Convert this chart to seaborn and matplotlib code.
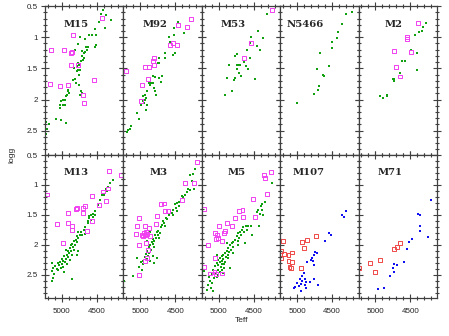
import pandas as pd
import matplotlib
matplotlib.use("Agg")
import matplotlib.pyplot as plt
import seaborn as sns
from matplotlib.ticker import MultipleLocator

# === Data: (Teff, logg) pairs per cluster ===
# green = filled squares, magenta = open squares (M107/M71: blue filled, red open)
M15_FILLED = [(4407, 0.57), (4440, 0.63), (4369, 0.64), (4474, 0.76), (4293, 0.72), (4521, 0.87),
              (4388, 0.86), (4616, 0.96), (4564, 0.97), (4507, 0.96), (4669, 1.03), (4745, 0.99),
              (4764, 1.11), (4507, 1.13), (4526, 1.16), (4659, 1.15), (4631, 1.16), (4645, 1.20),
              (4712, 1.22), (4669, 1.23), (4688, 1.25), (4816, 1.21), (4707, 1.30), (4688, 1.34),
              (4702, 1.37), (4721, 1.38), (4774, 1.41), (4750, 1.44), (4788, 1.46), (4764, 1.52),
              (4735, 1.52), (4821, 1.49), (4778, 1.55), (4754, 1.61), (4812, 1.67), (4845, 1.68),
              (4797, 1.73), (4759, 1.76), (4907, 1.84), (4916, 1.86), (4897, 1.90), (4921, 1.93),
              (4935, 1.95), (4954, 2.00), (4978, 2.01), (5012, 2.02), (5021, 2.08), (4983, 2.08),
              (4959, 2.09), (4726, 1.86), (4707, 1.89), (4740, 1.92), (5026, 2.13), (5078, 2.32),
              (5007, 2.33), (4945, 2.37), (5226, 2.36), (5188, 2.39), (5211, 2.48), (5221, 2.56)]
M15_OPEN = [(4421, 0.69), (4840, 0.96), (5159, 1.20), (4973, 1.20), (4873, 1.26), (4850, 1.24),
            (4869, 1.45), (4764, 1.44), (4540, 1.68), (5173, 1.75), (5021, 1.79), (4916, 1.77),
            (4697, 1.92), (4683, 2.06)]

M92_FILLED = [(4464, 0.75), (4516, 0.86), (4512, 0.96), (4583, 1.00), (4374, 0.94), (4574, 1.08),
              (4650, 1.26), (4650, 1.34), (4536, 1.29), (4507, 1.26), (4726, 1.34), (4750, 1.41),
              (4731, 1.42), (4688, 1.63), (4731, 1.65), (4812, 1.62), (4793, 1.64), (4821, 1.74),
              (4840, 1.73), (4869, 1.74), (4702, 1.72), (4864, 1.77), (4797, 1.82), (4902, 1.86),
              (4788, 1.87), (4769, 1.92), (4935, 1.92), (4954, 1.95), (4916, 1.97), (4926, 2.01),
              (4964, 2.03), (4945, 2.06), (4897, 2.09), (4992, 2.09), (4912, 2.17), (5040, 2.22),
              (5021, 2.32), (5126, 2.43), (5145, 2.48), (5173, 2.49), (5188, 2.52)]
M92_OPEN = [(4274, 0.71), (4455, 0.81), (4331, 0.84), (4574, 1.13), (4526, 1.10), (4478, 1.12),
            (4797, 1.33), (4812, 1.38), (4802, 1.44), (4926, 1.48), (4869, 1.48), (5207, 1.54),
            (4888, 1.67), (4973, 1.77), (4983, 2.02)]

M53_FILLED = [(4302, 0.63), (4431, 0.90), (4540, 0.99), (4364, 1.02), (4550, 1.10), (4455, 1.14),
              (4407, 1.21), (4597, 1.21), (4731, 1.27), (4764, 1.30), (4550, 1.34), (4631, 1.39),
              (4712, 1.44), (4693, 1.44), (4731, 1.45), (4845, 1.45), (4602, 1.46), (4578, 1.51),
              (4740, 1.51), (4702, 1.58), (4683, 1.62), (4759, 1.66), (4883, 1.66), (4778, 1.69),
              (4483, 1.67), (4812, 1.86), (4902, 1.93)]
M53_OPEN = [(4236, 0.57), (4531, 1.09), (4640, 1.34)]

N5466_FILLED = [(4221, 0.60), (4307, 0.63), (4355, 0.79), (4412, 0.92), (4426, 1.01), (4493, 1.07),
                (4497, 1.18), (4674, 1.26), (4536, 1.46), (4721, 1.51), (4626, 1.60), (4621, 1.62),
                (4683, 1.79), (4697, 1.85), (4764, 1.91), (4996, 2.05)]
N5466_OPEN = []

M2_FILLED = [(4283, 0.77), (4317, 0.83), (4331, 0.90), (4383, 0.92), (4431, 0.96), (4497, 1.20),
             (4407, 1.25), (4583, 1.38), (4621, 1.38), (4412, 1.52), (4650, 1.57), (4731, 1.67),
             (4755, 1.67), (4731, 1.71), (4831, 1.92), (4831, 1.95), (4888, 1.98), (4935, 1.94)]
M2_OPEN = [(4397, 0.77), (4550, 0.99), (4550, 1.03), (4740, 1.22), (4493, 1.24), (4712, 1.48),
           (4655, 1.63)]

M13_FILLED = [(4274, 0.92), (4312, 0.97), (4336, 1.03), (4369, 1.06), (4350, 1.10), (4393, 1.16),
              (4421, 1.17), (4455, 1.25), (4478, 1.33), (4526, 1.44), (4550, 1.49), (4583, 1.50),
              (4526, 1.51), (4559, 1.54), (4607, 1.56), (4583, 1.58), (4621, 1.61), (4631, 1.64),
              (4669, 1.71), (4678, 1.75), (4726, 1.78), (4774, 1.78), (4707, 1.83), (4745, 1.84),
              (4783, 1.86), (4764, 1.89), (4797, 1.92), (4826, 1.93), (4788, 1.96), (4850, 1.99),
              (4812, 2.00), (4869, 2.01), (4835, 2.04), (4883, 2.06), (4821, 2.08), (4916, 2.10),
              (4869, 2.11), (4897, 2.14), (4931, 2.17), (4859, 2.17), (4964, 2.19), (4907, 2.21),
              (4945, 2.23), (5002, 2.23), (4883, 2.25), (4978, 2.27), (5026, 2.28), (4954, 2.29),
              (5059, 2.31), (5002, 2.32), (4921, 2.32), (5040, 2.34), (5097, 2.36), (4978, 2.37),
              (5012, 2.39), (5073, 2.40), (5121, 2.39), (5050, 2.43), (5145, 2.44), (4964, 2.46),
              (5107, 2.49), (5135, 2.31), (4850, 2.57), (5121, 2.56), (5145, 2.60), (4669, 1.82),
              (4612, 1.52), (4783, 2.17), (4764, 2.11), (4945, 2.08)]
M13_OPEN = [(4331, 0.76), (4160, 0.83), (4336, 1.06), (4412, 1.11), (4574, 1.18), (4374, 1.27),
            (4469, 1.34), (5211, 1.16), (4664, 1.35), (4693, 1.39), (4783, 1.39), (4797, 1.40),
            (4702, 1.47), (4912, 1.47), (4574, 1.61), (5073, 1.66), (4916, 1.64), (4859, 1.69),
            (4859, 1.75), (4645, 1.77), (4978, 1.97)]

M3_FILLED = [(4212, 0.73), (4240, 0.81), (4288, 0.83), (4264, 0.93), (4231, 1.07), (4288, 1.08),
             (4321, 1.06), (4336, 1.12), (4360, 1.17), (4383, 1.21), (4407, 1.19), (4440, 1.28),
             (4478, 1.31), (4502, 1.32), (4450, 1.35), (4488, 1.38), (4526, 1.42), (4478, 1.43),
             (4550, 1.47), (4526, 1.50), (4583, 1.51), (4631, 1.56), (4612, 1.57), (4669, 1.60),
             (4655, 1.64), (4693, 1.67), (4707, 1.71), (4740, 1.77), (4764, 1.79), (4788, 1.83),
             (4750, 1.84), (4774, 1.88), (4812, 1.90), (4859, 1.78), (4797, 1.93), (4835, 1.96),
             (4821, 1.99), (4859, 2.00), (4802, 2.03), (4878, 2.04), (4850, 2.08), (4897, 2.11),
             (4869, 2.14), (4916, 2.16), (4883, 2.19), (4931, 2.21), (4907, 2.23), (4859, 2.27),
             (4954, 2.27), (4992, 2.28), (4821, 2.19), (4802, 2.31), (4764, 2.22), (4964, 2.33),
             (5012, 2.38), (5040, 2.22), (4978, 2.42), (5097, 2.53), (5226, 2.60), (4907, 1.94),
             (4726, 1.88), (4716, 1.81), (4645, 1.69)]
M3_OPEN = [(4183, 0.61), (4360, 0.97), (4231, 0.97), (4402, 1.25), (4697, 1.32), (4655, 1.31),
           (4640, 1.43), (4607, 1.43), (4764, 1.52), (5021, 1.56), (4778, 1.65), (5040, 1.69),
           (4926, 1.69), (4869, 1.72), (5059, 1.82), (4978, 1.83), (4945, 1.81), (4916, 1.79),
           (4897, 1.82), (4931, 1.83), (4954, 1.86), (4859, 1.86), (4921, 1.97), (5012, 2.00),
           (4893, 2.08), (4907, 2.22), (4931, 2.27), (5012, 2.50)]

M5_FILLED = [(4240, 0.96), (4336, 1.28), (4374, 1.32), (4393, 1.36), (4431, 1.42), (4374, 1.42),
             (4455, 1.46), (4407, 1.49), (4360, 1.51), (4421, 1.68), (4536, 1.68), (4574, 1.69),
             (4612, 1.68), (4645, 1.71), (4597, 1.75), (4669, 1.75), (4693, 1.78), (4631, 1.79),
             (4716, 1.81), (4526, 1.84), (4678, 1.83), (4740, 1.86), (4707, 1.89), (4764, 1.92),
             (4788, 1.96), (4726, 1.94), (4812, 1.97), (4831, 2.01), (4621, 1.97), (4788, 2.03),
             (4859, 2.06), (4821, 2.08), (4883, 2.11), (4850, 2.12), (4907, 2.14), (4788, 2.14),
             (4931, 2.17), (4869, 2.17), (4954, 2.19), (4897, 2.21), (4978, 2.22), (4931, 2.23),
             (5002, 2.25), (4945, 2.27), (4907, 2.28), (4978, 2.29), (5026, 2.31), (4954, 2.32),
             (4916, 2.33), (5002, 2.34), (5050, 2.36), (4964, 2.38), (4926, 2.39), (4835, 2.39),
             (5012, 2.42), (4945, 2.42), (5073, 2.43), (4978, 2.46), (5040, 2.47), (4931, 2.47),
             (5097, 2.49), (5012, 2.51), (5135, 2.54), (5059, 2.56), (5121, 2.60), (5097, 2.64),
             (5154, 2.68), (5107, 2.72), (5073, 2.78), (5169, 2.75), (5202, 2.44), (5026, 2.54),
             (4716, 2.00), (4883, 1.97), (4859, 2.22), (5026, 2.17)]
M5_OPEN = [(4255, 0.79), (4345, 0.84), (4336, 0.89), (4302, 1.15), (4507, 1.24), (4478, 1.53),
           (4659, 1.42), (4707, 1.44), (4655, 1.53), (4764, 1.56), (5207, 1.41), (4812, 1.68),
           (4878, 1.64), (4988, 1.69), (4907, 1.77), (4921, 1.81), (5050, 1.81), (5026, 1.84),
           (5002, 1.88), (5040, 1.90), (4945, 1.93), (5145, 2.01), (5050, 2.22), (5202, 2.37),
           (5059, 2.46), (5121, 2.48), (4945, 2.48), (5040, 2.49)]

M107_FILLED = [(4302, 1.43), (4355, 1.50), (4326, 1.54), (4536, 1.81), (4512, 1.83), (4597, 1.94),
               (4740, 2.12), (4716, 2.14), (4764, 2.17), (4788, 2.22), (4802, 2.25), (4778, 2.27),
               (4859, 2.29), (4764, 2.34), (4897, 2.48), (4931, 2.53), (4954, 2.58), (4931, 2.61),
               (4883, 2.58), (4869, 2.62), (4821, 2.62), (4764, 2.57), (5002, 2.64), (4945, 2.66),
               (5026, 2.71), (5050, 2.72), (4978, 2.69), (4869, 2.72), (4945, 2.77), (4707, 2.68),
               (4883, 2.67)]
M107_OPEN = [(5202, 1.94), (4931, 1.96), (4859, 1.92), (4735, 1.85), (4897, 2.06), (5073, 2.13),
             (5226, 2.10), (5183, 2.16), (5121, 2.17), (5232, 2.22), (5121, 2.27), (5073, 2.29),
             (5107, 2.37), (5088, 2.39), (4945, 2.39)]

M71_FILLED = [(4202, 1.25), (4388, 1.49), (4359, 1.51), (4364, 1.69), (4369, 1.77), (4255, 1.87),
              (4483, 1.90), (4516, 1.96), (4555, 2.07), (4588, 2.28), (4697, 2.34), (4735, 2.32),
              (4750, 2.39), (4735, 2.46), (4788, 2.52), (4873, 2.73), (4959, 2.74)]
M71_OPEN = [(4655, 1.97), (4697, 2.04), (4740, 2.07), (4940, 2.26), (5083, 2.31), (5002, 2.46),
            (5232, 2.39)]

TOP_ROW = ["M15", "M92", "M53", "N5466", "M2"]
BOTTOM_ROW = ["M13", "M3", "M5", "M107", "M71"]
PANELS = {
    "M15": (M15_FILLED, M15_OPEN), "M92": (M92_FILLED, M92_OPEN), "M53": (M53_FILLED, M53_OPEN),
    "N5466": (N5466_FILLED, N5466_OPEN), "M2": (M2_FILLED, M2_OPEN),
    "M13": (M13_FILLED, M13_OPEN), "M3": (M3_FILLED, M3_OPEN), "M5": (M5_FILLED, M5_OPEN),
    "M107": (M107_FILLED, M107_OPEN), "M71": (M71_FILLED, M71_OPEN),
}

# === Colours ===
GREEN, MAGENTA = "#10a010", "#f040f0"
BLUE, RED = "#1010f0", "#f04848"

sns.set_style("ticks")
plt.rcParams["font.family"] = ["Liberation Sans", "DejaVu Sans"]

fig, axes = plt.subplots(2, 5, figsize=(4.49, 3.36), dpi=100, sharex=True, sharey=True,
                         gridspec_kw={"height_ratios": [149, 143]})
fig.subplots_adjust(left=0.1002, right=0.9733, top=0.982, bottom=0.1131, wspace=0, hspace=0)

for row, names in enumerate([TOP_ROW, BOTTOM_ROW]):
    for col, name in enumerate(names):
        ax = axes[row, col]
        filled, open_ = PANELS[name]
        fcol, ocol = (BLUE, RED) if name in ("M107", "M71") else (GREEN, MAGENTA)
        df_f = pd.DataFrame(filled, columns=["Teff", "logg"])
        sns.scatterplot(data=df_f, x="Teff", y="logg", ax=ax, marker="s", s=3.5,
                        color=fcol, linewidth=0, legend=False)
        if open_:
            df_o = pd.DataFrame(open_, columns=["Teff", "logg"])
            sns.scatterplot(data=df_o, x="Teff", y="logg", ax=ax, marker="s", s=8,
                            facecolors="none", edgecolor=ocol, linewidth=0.7, legend=False)
        ax.text(0.56, 0.875, name, transform=ax.transAxes, ha="right", va="center",
                fontsize=7.2, fontweight="bold", family="DejaVu Serif")
        ax.set_xlabel("")
        ax.set_ylabel("")
        for s in ax.spines.values():
            s.set_color("#404040")
            s.set_linewidth(0.9)
        ax.xaxis.set_major_locator(MultipleLocator(500))
        ax.xaxis.set_minor_locator(MultipleLocator(100))
        ax.yaxis.set_major_locator(MultipleLocator(0.5))
        ax.yaxis.set_minor_locator(MultipleLocator(0.1))
        ax.tick_params(which="both", direction="inout", top=True, right=True,
                       color="#404040", width=0.8, labelsize=5.8, pad=2)
        ax.tick_params(which="major", length=6)
        ax.tick_params(which="minor", length=3)
        ax.tick_params(axis="x", labelbottom=(row == 1), pad=4)
        ax.tick_params(axis="y", labelleft=(col == 0))

axes[0, 0].set_xlim(5240, 4120)
axes[0, 0].set_ylim(2.89, 0.5)
axes[0, 0].yaxis.set_major_formatter(plt.FuncFormatter(lambda v, p: f"{v:g}"))

fig.text(0.027, 0.54, "logg", rotation=90, ha="center", va="center", fontsize=6)
fig.text(0.538, 0.045, "Teff", ha="center", va="center", fontsize=6)

fig.savefig("out.png", dpi=100)
